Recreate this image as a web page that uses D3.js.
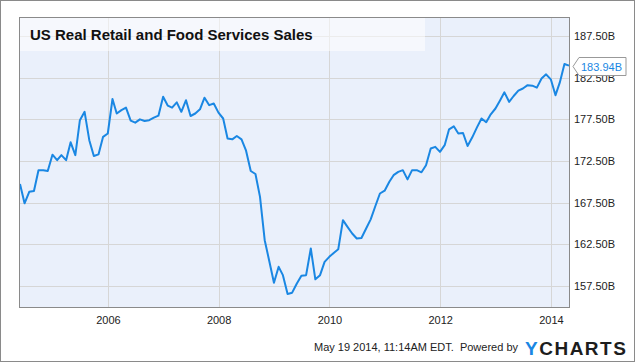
<!DOCTYPE html>
<html>
<head>
<meta charset="utf-8">
<script src="https://cdnjs.cloudflare.com/ajax/libs/d3/7.8.5/d3.min.js"></script>
<style>
  html, body { margin: 0; padding: 0; background: #fff; }
  svg { display: block; font-family: "Liberation Sans", Arial, sans-serif; }
</style>
</head>
<body>
<svg id="chart" width="635" height="362"></svg>
<script>
// monthly values, May 2004 .. Apr 2014 (billions)
var startYear = 2004, startMonth = 4;
var sales = [
  169.74, 167.42, 168.8, 168.9, 171.4, 171.4, 171.3, 173.26,
  172.6, 173.2, 172.6, 174.74, 173.2, 177.4, 178.4, 175.0, 173.1, 173.3, 175.4, 175.8,
  179.94, 178.2, 178.6, 178.9, 177.34, 177.1, 177.5, 177.3, 177.4, 177.7, 177.94, 180.2,
  179.14, 178.9, 179.54, 178.4, 179.8, 177.9, 178.2, 178.7, 180.1, 179.2, 179.4, 178.3,
  177.6, 175.2, 175.1, 175.5, 175.1, 173.74, 171.3, 170.94, 168.2, 163.0, 160.5, 157.9,
  159.8, 158.8, 156.54, 156.7, 157.8, 158.74, 158.8, 162.0, 158.3, 158.8, 160.4, 161.0,
  161.5, 161.9, 165.4, 164.6, 163.8, 163.2, 163.26, 164.4, 165.5, 167.1, 168.6, 168.94,
  170.0, 170.8, 171.2, 171.4, 170.3, 171.4, 171.4, 171.14, 172.0, 174.0, 174.2, 173.6,
  174.4, 176.3, 176.66, 175.8, 175.86, 174.3, 175.34, 176.54, 177.6, 177.15, 178.1, 178.8,
  179.8, 180.74, 179.6, 180.3, 180.94, 181.2, 181.6, 181.54, 181.3, 182.4, 182.9, 182.3,
  180.4, 181.9, 184.14, 183.94
];
var yTicks = [157.5, 162.5, 167.5, 172.5, 177.5, 182.5, 187.5];
var xTickYears = [2006, 2008, 2010, 2012, 2014];
var title = "US Real Retail and Food Services Sales";
var lastLabel = "183.94B";
var footerText = "May 19 2014, 11:14AM EDT.  Powered by";

(function() {
  // points are dated at month end
  var data = sales.map(function(v, i) {
    return { date: new Date(startYear, startMonth + i + 1, 0), value: v };
  });

  var svg = d3.select('#chart');
  var pLeft = 20, pRight = 569, pTop = 18, pBottom = 307;
  var font = '"Liberation Sans", Arial, sans-serif';

  var x = d3.scaleTime()
    .domain([data[0].date, data[data.length - 1].date])
    .range([pLeft, pRight]);
  var y = d3.scaleLinear()
    .domain([154.98, 189.66])
    .range([pBottom, pTop]);

  // outer frame
  svg.append('rect')
    .attr('x', 0.5).attr('y', 0.5).attr('width', 634).attr('height', 361)
    .attr('fill', '#fff').attr('stroke', '#8a8a8a');

  // plot background
  svg.append('rect')
    .attr('x', pLeft).attr('y', pTop).attr('width', pRight - pLeft).attr('height', pBottom - pTop)
    .attr('fill', '#eaf0fb');

  // grid lines
  svg.append('g').selectAll('line').data(yTicks).enter().append('line')
    .attr('x1', pLeft).attr('x2', pRight)
    .attr('y1', function(d) { return Math.round(y(d)) + 0.5; })
    .attr('y2', function(d) { return Math.round(y(d)) + 0.5; })
    .attr('stroke', '#d6d6d6');

  svg.append('g').selectAll('line').data(xTickYears).enter().append('line')
    .attr('x1', function(d) { return Math.round(x(new Date(d, 0, 1))) + 0.5; })
    .attr('x2', function(d) { return Math.round(x(new Date(d, 0, 1))) + 0.5; })
    .attr('y1', pTop).attr('y2', pBottom)
    .attr('stroke', '#d6d6d6');

  // title box
  svg.append('rect')
    .attr('x', pLeft).attr('y', pTop).attr('width', 405).attr('height', 33)
    .attr('fill', '#fff').attr('fill-opacity', 0.55);
  svg.append('text')
    .attr('x', 30).attr('y', 40)
    .attr('font-size', 15).attr('font-weight', 'bold').attr('fill', '#111')
    .text(title);

  // line
  var line = d3.line()
    .x(function(d) { return x(d.date); })
    .y(function(d) { return y(d.value); });

  svg.append('path')
    .datum(data)
    .attr('d', line)
    .attr('fill', 'none')
    .attr('stroke', '#1a87e3')
    .attr('stroke-width', 2)
    .attr('stroke-linejoin', 'round');

  // plot border
  svg.append('rect')
    .attr('x', pLeft - 0.5).attr('y', pTop - 0.5)
    .attr('width', pRight - pLeft + 1).attr('height', pBottom - pTop + 1)
    .attr('fill', 'none').attr('stroke', '#8a8a8a');

  // axes labels
  var yAxis = d3.axisRight(y).tickValues(yTicks).tickSize(0).tickPadding(5)
    .tickFormat(function(d) { return d3.format('.2f')(d) + 'B'; });
  svg.append('g')
    .attr('transform', 'translate(' + pRight + ',0)')
    .call(yAxis)
    .call(function(g) {
      g.select('.domain').remove();
      g.selectAll('text').attr('font-size', 11).attr('fill', '#222').attr('font-family', font);
    });

  var xAxis = d3.axisBottom(x)
    .tickValues(xTickYears.map(function(d) { return new Date(d, 0, 1); }))
    .tickSize(0).tickPadding(9)
    .tickFormat(d3.timeFormat('%Y'));
  svg.append('g')
    .attr('transform', 'translate(0,' + pBottom + ')')
    .call(xAxis)
    .call(function(g) {
      g.select('.domain').remove();
      g.selectAll('text').attr('font-size', 11).attr('fill', '#222').attr('font-family', font);
    });

  // last value flag
  var last = data[data.length - 1];
  var lx = x(last.date) + 4, ly = Math.round(y(last.value)) + 0.5;
  var flag = svg.append('g');
  flag.append('path')
    .attr('d', 'M' + lx + ',' + ly + 'L' + (lx + 6) + ',' + (ly - 9) + 'H' + (lx + 53) +
      'V' + (ly + 9) + 'H' + (lx + 6) + 'Z')
    .attr('fill', '#fff').attr('stroke', '#999');
  flag.append('text')
    .attr('x', lx + 8).attr('y', ly + 4)
    .attr('font-size', 11).attr('fill', '#1a87e3')
    .text(lastLabel);

  // footer
  svg.append('text')
    .attr('x', 518).attr('y', 351)
    .attr('text-anchor', 'end')
    .attr('font-size', 11).attr('fill', '#222')
    .attr('xml:space', 'preserve')
    .text(footerText);
  var logo = svg.append('text')
    .attr('x', 525).attr('y', 355)
    .attr('font-size', 19).attr('font-weight', 'bold')
    .attr('letter-spacing', 1.5);
  logo.append('tspan').attr('fill', '#1a87e3').text('Y');
  logo.append('tspan').attr('fill', '#1d1d1d').text('CHARTS');
})();
</script>
</body>
</html>
